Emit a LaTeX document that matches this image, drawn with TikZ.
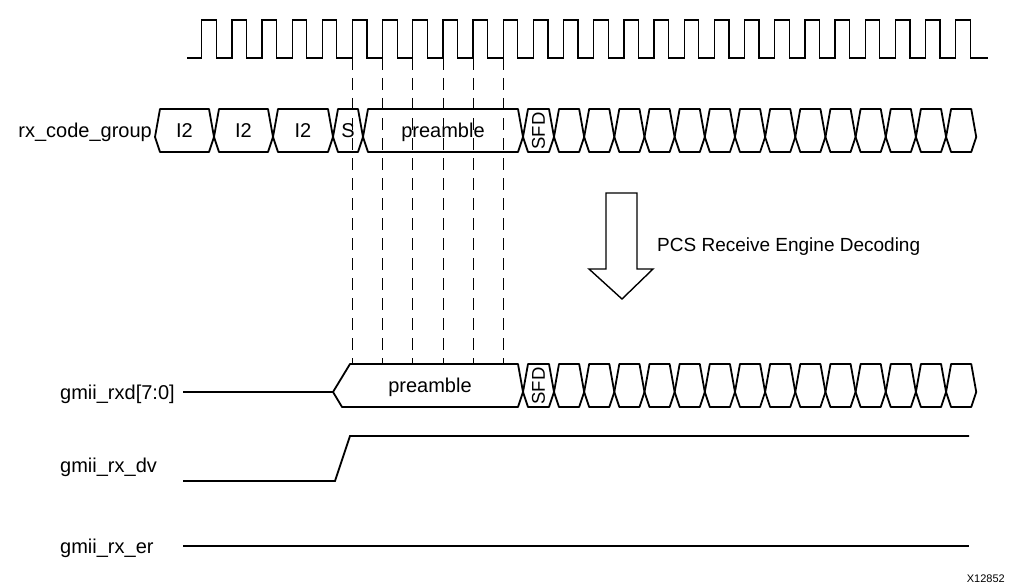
\documentclass[tikz,border=0pt]{standalone}
\usepackage{fontspec}
\setmainfont{Liberation Sans}
\begin{document}
\begin{tikzpicture}[x=1pt, y=-1pt, font=\fontsize{20}{24}\selectfont,
        clk/.style={line width=1.3pt},
        bus/.style={line width=1.8pt, line join=round},
        sig/.style={line width=1.8pt},
        guide/.style={line width=0.9pt, dash pattern=on 12pt off 8pt},
        lbl/.style={inner sep=0pt, anchor=base west},
        vtxt/.style={inner sep=0pt, rotate=90, font=\fontsize{18.5}{22}\selectfont}]
        \useasboundingbox (0,0) rectangle (1010,586);

        % Clock
        \draw[clk] (187,58) \foreach \k in {0,...,25} {
            -- ({201.7+30.16*\k},58) -- ({201.7+30.16*\k},20)
            -- ({216.2+30.16*\k},20) -- ({216.2+30.16*\k},58) } -- (988,58);

        % Guide lines
        \foreach \k in {5,...,10}
            \draw[guide] ({201.7+30.16*\k},58) -- ({201.7+30.16*\k},364);

        % rx_code_group
        \node[inner sep=0pt, anchor=base east] (codelbl) at (152,137) {rx\_code\_group};
        \foreach \a/\b in {155/214, 214/273, 273/333, 333/363, 363/523, 523/554}
            \draw[bus] (\a,137) -- ({\a+5},109) -- ({\b-5},109) -- (\b,137) -- ({\b-5},152) -- ({\a+5},152) -- cycle;
        \foreach[evaluate=\k as \a using {554+30.16*\k}] \k in {0,...,13}
            \draw[bus] (\a,137) -- ({\a+5},109) -- ({\a+25.16},109) -- ({\a+30.16},137) -- ({\a+25.16},152) -- ({\a+5},152) -- cycle;
        \node[inner sep=0pt, anchor=base] (codei2a) at (184.5,137) {I2};
        \node[inner sep=0pt, anchor=base] (codei2b) at (243.5,137) {I2};
        \node[inner sep=0pt, anchor=base] (codei2c) at (303,137) {I2};
        \node[inner sep=0pt, anchor=base] (codes) at (348,137) {S};
        \node[inner sep=0pt, anchor=base] (codepre) at (443,137) {preamble};
        \node[vtxt] (codesfd) at (538.5,131) {SFD};

        % Decoding arrow
        \draw[line width=1.4pt] (606,193) -- (637,193) -- (637,269) -- (653,269)
            -- (622,299) -- (589,269) -- (606,269) -- cycle;
        \node[lbl, font=\fontsize{19}{23}\selectfont] (pcs) at (657,251) {PCS Receive Engine Decoding};

        % gmii_rxd[7:0]
        \node[lbl] (rxdlbl) at (60,399) {gmii\_rxd[7:0]};
        \draw[bus] (183,392) -- (333,392);
        \draw[bus] (333,392) -- (350,364) -- (518,364) -- (523,392) -- (518,407) -- (342,407) -- cycle;
        \draw[bus] (523,392) -- (528,364) -- (549,364) -- (554,392) -- (549,407) -- (528,407) -- cycle;
        \foreach[evaluate=\k as \a using {554+30.16*\k}] \k in {0,...,13}
            \draw[bus] (\a,392) -- ({\a+5},364) -- ({\a+25.16},364) -- ({\a+30.16},392) -- ({\a+25.16},407) -- ({\a+5},407) -- cycle;
        \node[inner sep=0pt, anchor=base] (rxdpre) at (430,392) {preamble};
        \node[vtxt] (rxdsfd) at (538.5,386) {SFD};

        % gmii_rx_dv
        \node[lbl] (dvlbl) at (60,472) {gmii\_rx\_dv};
        \draw[sig] (183,481) -- (335,481) -- (350,436) -- (969,436);

        % gmii_rx_er
        \node[lbl] (erlbl) at (60,553) {gmii\_rx\_er};
        \draw[sig] (183,546) -- (969,546);

        \node[inner sep=0pt, anchor=base east, font=\fontsize{11}{13}\selectfont] (fignum) at (1005,582) {X12852};
    \end{tikzpicture}
\end{document}
